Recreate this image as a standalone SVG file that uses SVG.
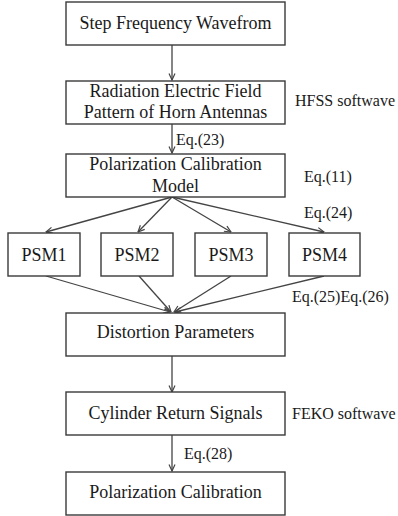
<svg xmlns="http://www.w3.org/2000/svg" width="398" height="516" viewBox="0 0 398 516">
<style>
.box{fill:#fff;stroke:#3a3a3a;stroke-width:1.4}
.t{font-family:"Liberation Serif","Times New Roman",serif;font-size:18px;fill:#1a1a1a;text-anchor:middle}
.s{font-family:"Liberation Serif","Times New Roman",serif;font-size:16px;fill:#1a1a1a}
.c{fill:none;stroke:#444;stroke-width:1.3}
</style>
<defs>
<marker id="ah" viewBox="0 0 8 8" refX="7.5" refY="4" markerWidth="8" markerHeight="8" markerUnits="userSpaceOnUse" orient="auto">
<path d="M1,1 L7.5,4 L1,7" fill="none" stroke="#444" stroke-width="1.2"/>
</marker>
</defs>
<rect width="398" height="516" fill="#fff"/>
<g id="connectors">
<line class="c" x1="172" y1="45" x2="172" y2="80" marker-end="url(#ah)"/>
<line class="c" x1="172" y1="124" x2="172" y2="153" marker-end="url(#ah)"/>
<line class="c" x1="172" y1="197" x2="46" y2="232" marker-end="url(#ah)"/>
<line class="c" x1="172" y1="197" x2="138" y2="232" marker-end="url(#ah)"/>
<line class="c" x1="172" y1="197" x2="231" y2="232" marker-end="url(#ah)"/>
<line class="c" x1="172" y1="197" x2="324" y2="232" marker-end="url(#ah)"/>
<line class="c" x1="46" y1="276" x2="170" y2="312" marker-end="url(#ah)"/>
<line class="c" x1="139" y1="276" x2="171" y2="312" marker-end="url(#ah)"/>
<line class="c" x1="231" y1="276" x2="174" y2="312" marker-end="url(#ah)"/>
<line class="c" x1="324" y1="276" x2="175" y2="312" marker-end="url(#ah)"/>
<line class="c" x1="172" y1="356" x2="172" y2="392" marker-end="url(#ah)"/>
<line class="c" x1="172" y1="435" x2="172" y2="471" marker-end="url(#ah)"/>
</g>
<g id="n1"><rect class="box" x="66" y="2" width="219" height="43"/><text class="t" x="175.5" y="29">Step Frequency Wavefrom</text></g>
<g id="n2"><rect class="box" x="66" y="81" width="219" height="43"/><text class="t" x="175.5" y="97">Radiation Electric Field</text><text class="t" x="175.5" y="118">Pattern of Horn Antennas</text></g>
<g id="n3"><rect class="box" x="66" y="154" width="219" height="43"/><text class="t" x="175.5" y="170">Polarization Calibration</text><text class="t" x="175.5" y="192">Model</text></g>
<g id="psm1"><rect class="box" x="8" y="233" width="72" height="43"/><text class="t" x="44" y="261">PSM1</text></g>
<g id="psm2"><rect class="box" x="101" y="233" width="72" height="43"/><text class="t" x="137" y="261">PSM2</text></g>
<g id="psm3"><rect class="box" x="195" y="233" width="72" height="43"/><text class="t" x="231" y="261">PSM3</text></g>
<g id="psm4"><rect class="box" x="289" y="233" width="71" height="43"/><text class="t" x="324.5" y="261">PSM4</text></g>
<g id="n4"><rect class="box" x="66" y="313" width="219" height="43"/><text class="t" x="175.5" y="338">Distortion Parameters</text></g>
<g id="n5"><rect class="box" x="66" y="392" width="219" height="43"/><text class="t" x="175.5" y="419">Cylinder Return Signals</text></g>
<g id="n6"><rect class="box" x="66" y="472" width="219" height="43"/><text class="t" x="175.5" y="498">Polarization Calibration</text></g>
<g id="labels">
<text class="s" x="295" y="106">HFSS softwave</text>
<text class="s" x="176" y="145">Eq.(23)</text>
<text class="s" x="304" y="182">Eq.(11)</text>
<text class="s" x="304" y="218">Eq.(24)</text>
<text class="s" x="292" y="302">Eq.(25)Eq.(26)</text>
<text class="s" x="292" y="419">FEKO softwave</text>
<text class="s" x="184" y="459">Eq.(28)</text>
</g>
</svg>
